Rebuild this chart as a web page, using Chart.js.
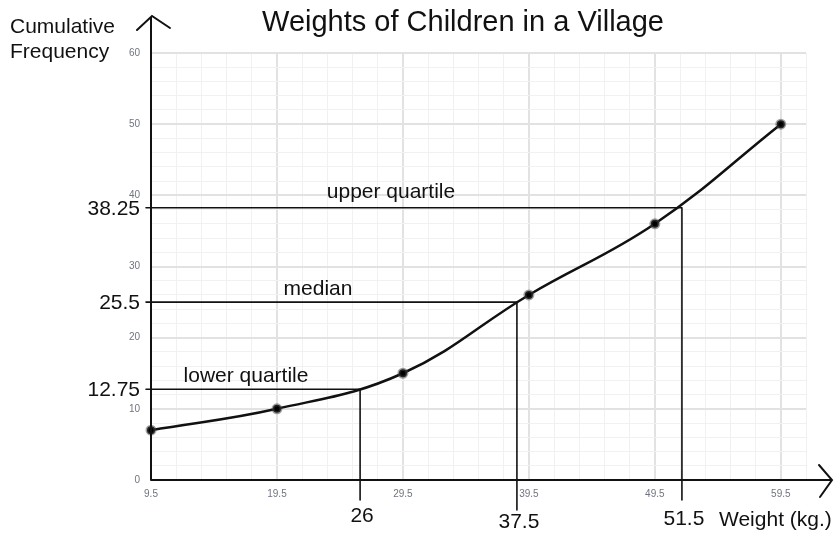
<!DOCTYPE html>
<html>
<head>
<meta charset="utf-8">
<title>Weights of Children in a Village</title>
<script src="https://cdn.jsdelivr.net/npm/chart.js@4.4.1/dist/chart.umd.min.js"></script>
<style>
  html, body { margin: 0; padding: 0; background: #fff; }
  #wrap { width: 835px; height: 533px; position: relative; }
</style>
</head>
<body>
<div id="wrap"><canvas id="ogive"></canvas></div>
<script>
// class upper boundaries and cumulative frequencies
const weights = [9.5, 19.5, 29.5, 39.5, 49.5, 59.5];
const cumFreq = [7, 10, 15, 26, 36, 50];

// quartile read-offs (where they are drawn, and what they are labelled)
const quartileNames = ['lower quartile', 'median', 'upper quartile'];
const quartileFreq = [12.75, 25, 38.25];
const quartileFreqLabels = ['12.75', '25.5', '38.25'];
const quartileWeight = [26.1, 38.55, 51.65];
const quartileWeightLabels = ['26', '37.5', '51.5'];

// labelled ticks
const xTickLabels = [9.5, 19.5, 29.5, 39.5, 49.5, 59.5];
const yTickLabels = [0, 10, 20, 30, 40, 50, 60];

const FONT = '"Liberation Sans", Arial, Helvetica, sans-serif';
Chart.defaults.font.family = FONT;

function isMajorX(v) { return xTickLabels.some(t => Math.abs(t - v) < 0.01); }
function isMajorY(v) { return yTickLabels.includes(v); }

function minorTicks(start, end) {
  const ticks = [];
  for (let v = start; v <= end + 0.001; v += 2) ticks.push({ value: Math.round(v * 10) / 10 });
  return ticks;
}

// axes with arrows, quartile lines and the text around them
const ogiveExtras = {
  id: 'ogiveExtras',
  afterDraw(chart) {
    const ctx = chart.ctx;
    const xs = chart.scales.x, ys = chart.scales.y;
    const left = xs.left, bottom = ys.bottom;

    ctx.save();
    ctx.strokeStyle = '#111';
    ctx.lineCap = 'round';

    // quartile lines
    const drop = [20, 30, 20];
    ctx.lineWidth = 1.6;
    quartileFreq.forEach((f, i) => {
      const py = ys.getPixelForValue(f);
      const px = xs.getPixelForValue(quartileWeight[i]);
      ctx.beginPath();
      ctx.moveTo(left - 5, py);
      ctx.lineTo(px, py);
      ctx.moveTo(px, py);
      ctx.lineTo(px, bottom + drop[i]);
      ctx.stroke();
    });

    // axes
    ctx.lineWidth = 2;
    ctx.beginPath();
    ctx.moveTo(left, bottom);
    ctx.lineTo(left, 17);
    ctx.moveTo(137, 30);
    ctx.lineTo(left + 1, 16);
    ctx.lineTo(170, 28);
    ctx.moveTo(left, bottom);
    ctx.lineTo(831, bottom);
    ctx.moveTo(819, 465);
    ctx.lineTo(832, bottom);
    ctx.lineTo(820, 497);
    ctx.stroke();

    ctx.fillStyle = '#111';
    ctx.textBaseline = 'alphabetic';

    // title
    ctx.font = '29px ' + FONT;
    ctx.textAlign = 'center';
    ctx.fillText('Weights of Children in a Village', 463, 31);

    // axis titles
    ctx.font = '21px ' + FONT;
    ctx.textAlign = 'left';
    ctx.fillText('Cumulative', 10, 33);
    ctx.fillText('Frequency', 10, 58);
    ctx.fillText('Weight (kg.)', 719, 526);

    // quartile names above the lines
    const nameX = [246, 318, 391];
    const nameLift = [7, 7, 10];
    ctx.textAlign = 'center';
    quartileNames.forEach((n, i) => {
      ctx.fillText(n, nameX[i], ys.getPixelForValue(quartileFreq[i]) - nameLift[i]);
    });

    // frequency read-offs on the left
    ctx.textAlign = 'right';
    quartileFreqLabels.forEach((t, i) => {
      ctx.fillText(t, 140, ys.getPixelForValue(quartileFreq[i]) + 7);
    });

    // weight read-offs underneath
    const under = [522, 528, 525];
    ctx.textAlign = 'center';
    quartileWeightLabels.forEach((t, i) => {
      ctx.fillText(t, xs.getPixelForValue(quartileWeight[i]) + 2, under[i]);
    });

    ctx.restore();
  }
};

const ctx = document.getElementById('ogive');

new Chart(ctx, {
  type: 'line',
  data: {
    datasets: [{
      data: weights.map((w, i) => ({ x: w, y: cumFreq[i] })),
      borderColor: '#111',
      borderWidth: 2.5,
      tension: 0.4,
      pointRadius: 4,
      pointBorderWidth: 3,
      pointBackgroundColor: '#000',
      pointBorderColor: 'rgba(70,70,70,0.5)',
      clip: false
    }]
  },
  options: {
    responsive: true,
    maintainAspectRatio: false,
    animation: false,
    layout: { padding: { top: 53, left: 111, right: 29, bottom: 33 } },
    plugins: {
      legend: { display: false },
      tooltip: { enabled: false },
      title: { display: false }
    },
    scales: {
      x: {
        type: 'linear',
        min: 9.5,
        max: 61.5,
        afterBuildTicks: s => { s.ticks = minorTicks(9.5, 61.5); },
        afterFit: s => { s.height = 20; },
        border: { display: false },
        grid: {
          drawTicks: false,
          color: c => isMajorX(c.tick.value) ? '#e2e2e2' : '#f1f1f1',
          lineWidth: c => isMajorX(c.tick.value) ? 2 : 1
        },
        ticks: {
          autoSkip: false,
          maxRotation: 0,
          padding: 8,
          color: '#707480',
          font: { size: 10 },
          callback: v => isMajorX(v) ? String(v) : ''
        }
      },
      y: {
        min: 0,
        max: 60,
        afterBuildTicks: s => { s.ticks = minorTicks(0, 60); },
        afterFit: s => { s.width = 40; },
        border: { display: false },
        grid: {
          drawTicks: false,
          color: c => isMajorY(c.tick.value) ? '#e2e2e2' : '#f1f1f1',
          lineWidth: c => isMajorY(c.tick.value) ? 2 : 1
        },
        ticks: {
          autoSkip: false,
          padding: 11,
          color: '#707480',
          font: { size: 10 },
          callback: v => isMajorY(v) ? String(v) : ''
        }
      }
    }
  },
  plugins: [ogiveExtras]
});
</script>
</body>
</html>
